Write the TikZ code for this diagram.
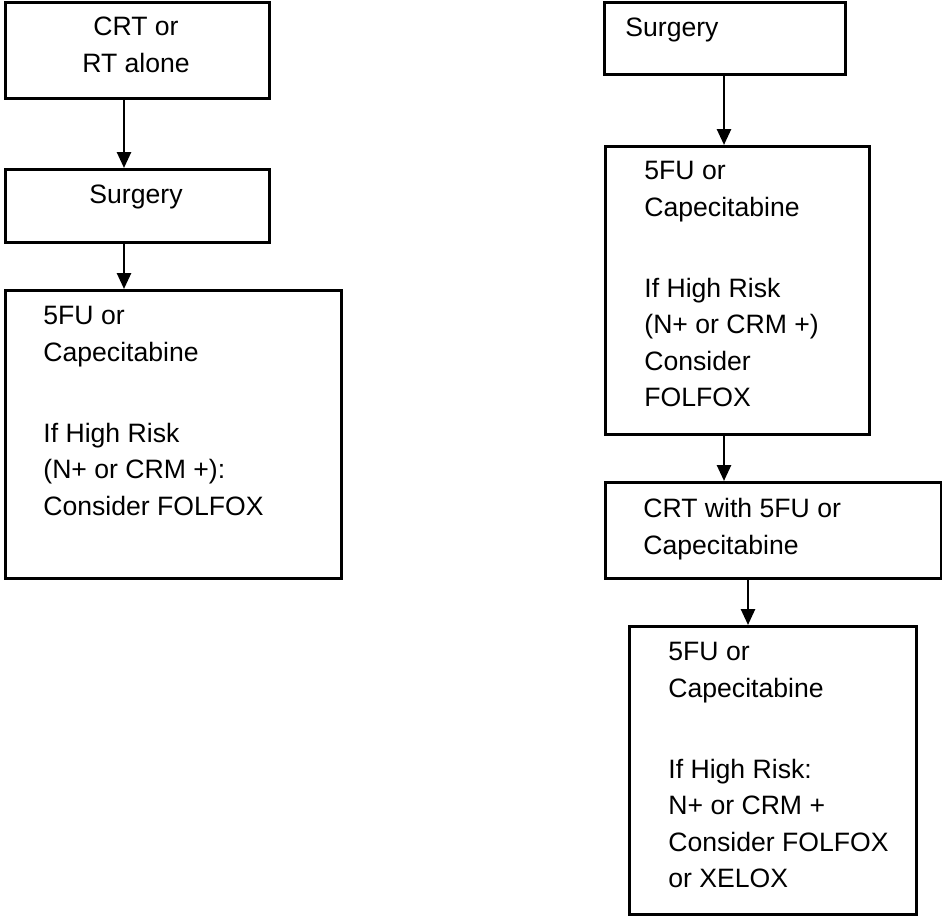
\documentclass[tikz,border=0pt]{standalone}
\usepackage{fontspec}
\setmainfont{Liberation Sans}
\usetikzlibrary{arrows.meta}
\tikzset{
  box/.style={draw, line width=1.25pt, anchor=north west, inner sep=0pt},
  txt/.style={inner sep=0pt, align=left, anchor=north west, font=\fontsize{13.3pt}{18.25pt}\selectfont},
  arr/.style={-{Triangle[width=7pt,length=8pt]}, line width=1.3pt}
}
\begin{document}
\begin{tikzpicture}[x=0.5pt,y=-0.5pt]
	\useasboundingbox (0,0) rectangle (942,916);
	% left column
	\node[box, minimum width=132pt, minimum height=48pt] (crt) at (4,1) {};
	\node[box, minimum width=132pt, minimum height=36.5pt] (surgL) at (4,168) {};
	\node[box, minimum width=168pt, minimum height=144pt] (adjL) at (4,289) {};
	\node[txt, align=center, anchor=north] (crtText) at (136,17) {CRT or\\RT alone};
	\node[txt, anchor=north] (surgLText) at (136,185) {Surgery};
	\node[txt] (adjLText) at (43,306) {5FU or\\Capecitabine\\[22.25pt]If High Risk\\(N+ or CRM +):\\Consider FOLFOX};
	\draw[arr] (crt.south -| 124,0) -- (surgL.north -| 124,0);
	\draw[arr] (surgL.south -| 124,0) -- (adjL.north -| 124,0);
	% right column
	\node[box, minimum width=120.5pt, minimum height=36pt] (surgR) at (603,1) {};
	\node[box, minimum width=132pt, minimum height=144pt] (adjR) at (604,145) {};
	\node[box, minimum width=168pt, minimum height=48pt] (crtR) at (604,481) {};
	\node[box, minimum width=143.5pt, minimum height=144pt] (finR) at (628,625) {};
	\node[txt] (surgRText) at (625,18) {Surgery};
	\node[txt] (adjRText) at (644,161) {5FU or\\Capecitabine\\[22.25pt]If High Risk\\(N+ or CRM +)\\Consider\\FOLFOX};
	\node[txt] (crtRText) at (643,498) {CRT with 5FU or\\Capecitabine};
	\node[txt] (finRText) at (668,642) {5FU or\\Capecitabine\\[22.25pt]If High Risk:\\N+ or CRM +\\Consider FOLFOX\\or XELOX};
	\draw[arr] (surgR.south -| 724,0) -- (adjR.north -| 724,0);
	\draw[arr] (adjR.south -| 724,0) -- (crtR.north -| 724,0);
	\draw[arr] (crtR.south -| 748,0) -- (finR.north -| 748,0);
\end{tikzpicture}
\end{document}
